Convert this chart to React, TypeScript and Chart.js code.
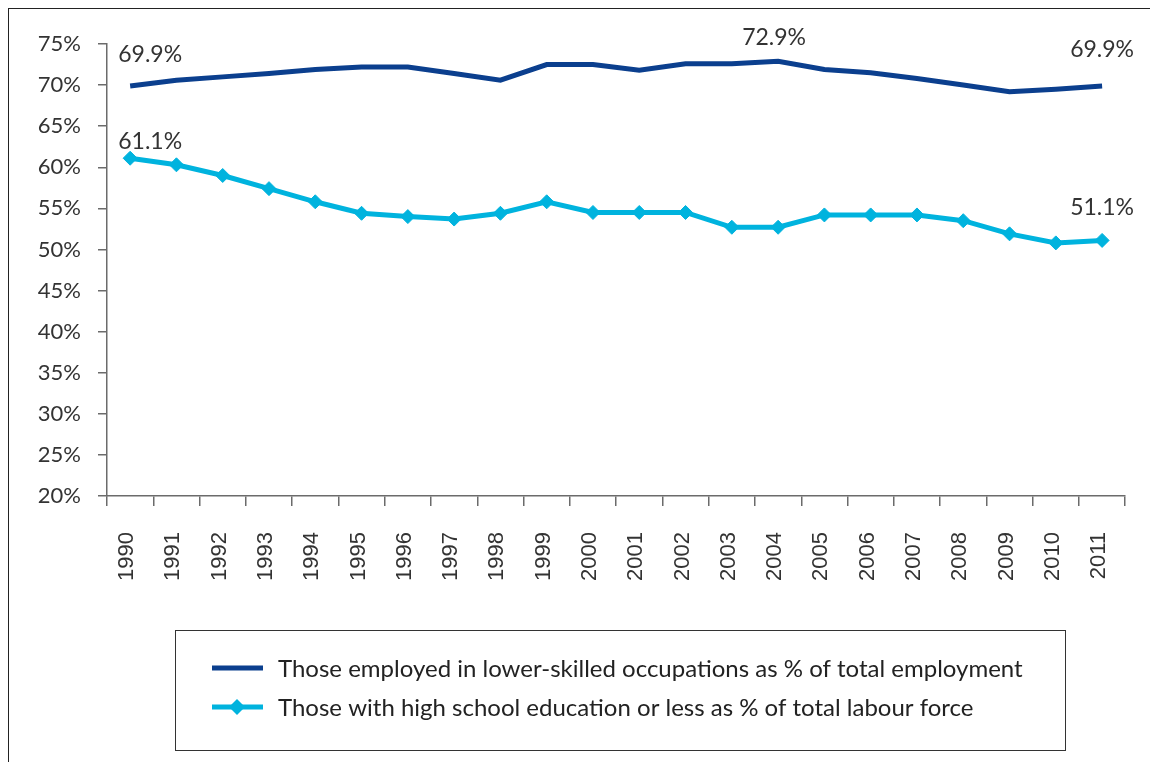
import React, { useEffect, useRef } from 'react';
import { Chart, registerables } from 'chart.js';

Chart.register(...registerables);

// ---- Data ----
const years = [
  '1990', '1991', '1992', '1993', '1994', '1995', '1996', '1997', '1998', '1999', '2000',
  '2001', '2002', '2003', '2004', '2005', '2006', '2007', '2008', '2009', '2010', '2011',
];

const lowerSkilledShare = [
  69.9, 70.6, 71.0, 71.4, 71.9, 72.2, 72.2, 71.4, 70.6, 72.5, 72.5,
  71.8, 72.6, 72.6, 72.9, 71.9, 71.5, 70.8, 70.0, 69.2, 69.5, 69.9,
];

const highSchoolShare = [
  61.1, 60.3, 59.0, 57.4, 55.8, 54.4, 54.0, 53.7, 54.4, 55.8, 54.5,
  54.5, 54.5, 52.7, 52.7, 54.2, 54.2, 54.2, 53.5, 51.9, 50.8, 51.1,
];

const seriesNames = [
  'Those employed in lower-skilled occupations as % of total employment',
  'Those with high school education or less as % of total labour force',
];

const yMin = 20;
const yMax = 75;
const yStep = 5;

// which points get a value label: [datasetIndex, pointIndex]
const labelledPoints: [number, number][] = [
  [0, 0],
  [1, 0],
  [0, 14],
  [0, 21],
  [1, 21],
];

// ---- Styles ----
const DARK = '#0b3f8e';
const LIGHT = '#00b3de';
const TEXT = '#333333';
const AXIS = '#6b6b6b';

const labelOffsets: Record<string, { dx: number; dy: number }> = {
  '0-0': { dx: 20, dy: -31 },
  '1-0': { dx: 20, dy: -17 },
  '0-14': { dx: -4, dy: -24 },
  '0-21': { dx: 0, dy: -36 },
  '1-21': { dx: 0, dy: -33 },
};

const valueLabelPlugin = {
  id: 'valueLabels',
  afterDatasetsDraw(chart: any) {
    const ctx = chart.ctx;
    ctx.save();
    ctx.font = '23px Lato';
    ctx.fillStyle = TEXT;
    ctx.textAlign = 'center';
    ctx.textBaseline = 'middle';
    labelledPoints.forEach(([d, i]) => {
      const meta = chart.getDatasetMeta(d);
      const pt = meta.data[i];
      const v = chart.data.datasets[d].data[i] as number;
      const off = labelOffsets[`${d}-${i}`] || { dx: 0, dy: -25 };
      ctx.fillText(v.toFixed(1) + '%', pt.x + off.dx, pt.y + off.dy);
    });
    ctx.restore();
  },
};

const boxLegendPlugin = {
  id: 'boxLegend',
  afterDraw(chart: any) {
    const ctx = chart.ctx;
    const box = { x: 166, y: 621, w: 890, h: 120 };
    ctx.save();
    ctx.strokeStyle = '#333';
    ctx.lineWidth = 1;
    ctx.strokeRect(box.x + 0.5, box.y + 0.5, box.w, box.h);
    const rows = [box.y + 38, box.y + 77];
    chart.data.datasets.forEach((ds: any, k: number) => {
      const y = rows[k];
      ctx.strokeStyle = ds.borderColor;
      ctx.lineWidth = 5;
      ctx.beginPath();
      ctx.moveTo(box.x + 37, y);
      ctx.lineTo(box.x + 88, y);
      ctx.stroke();
      if (ds.pointRadius > 0) {
        const r = 8;
        const cx = box.x + 62;
        ctx.fillStyle = ds.borderColor;
        ctx.beginPath();
        ctx.moveTo(cx, y - r);
        ctx.lineTo(cx + r, y);
        ctx.lineTo(cx, y + r);
        ctx.lineTo(cx - r, y);
        ctx.closePath();
        ctx.fill();
      }
      ctx.fillStyle = '#222';
      ctx.font = '24px Lato';
      ctx.textAlign = 'left';
      ctx.textBaseline = 'middle';
      ctx.fillText(ds.label, box.x + 103, y + 1);
    });
    ctx.restore();
  },
};

export default function App() {
  const canvasRef = useRef<HTMLCanvasElement | null>(null);

  useEffect(() => {
    if (!canvasRef.current) return;
    const chart = new Chart(canvasRef.current, {
      type: 'line',
      data: {
        labels: years,
        datasets: [
          {
            label: seriesNames[0],
            data: lowerSkilledShare,
            borderColor: DARK,
            backgroundColor: DARK,
            borderWidth: 5,
            pointRadius: 0,
            pointHoverRadius: 0,
            tension: 0,
          },
          {
            label: seriesNames[1],
            data: highSchoolShare,
            borderColor: LIGHT,
            backgroundColor: LIGHT,
            borderWidth: 5,
            pointStyle: 'rectRot',
            pointRadius: 7,
            pointBorderWidth: 1,
            pointBackgroundColor: LIGHT,
            pointBorderColor: LIGHT,
            tension: 0,
          },
        ],
      },
      options: {
        responsive: false,
        maintainAspectRatio: false,
        animation: false,
        layout: { padding: { left: 0, right: 22, top: 35, bottom: 0 } },
        plugins: {
          legend: { display: false },
          tooltip: { enabled: false },
          title: { display: false },
        },
        scales: {
          x: {
            type: 'category',
            offset: true,
            grid: {
              display: true,
              drawOnChartArea: false,
              offset: true,
              tickLength: 10,
              color: AXIS,
              lineWidth: 1.5,
            },
            border: { display: true, color: AXIS, width: 1.5 },
            ticks: {
              minRotation: 90,
              maxRotation: 90,
              autoSkip: false,
              padding: 26,
              labelOffset: -3,
              color: TEXT,
              font: { family: 'Liberation Sans', size: 22 },
            },
            afterFit: (scale: any) => {
              scale.height = 266;
            },
          },
          y: {
            min: yMin,
            max: yMax,
            grid: {
              display: true,
              drawOnChartArea: false,
              tickLength: 9,
              color: AXIS,
              lineWidth: 1.5,
            },
            border: { display: true, color: AXIS, width: 1.5 },
            ticks: {
              stepSize: yStep,
              padding: 17,
              color: TEXT,
              font: { family: 'Lato', size: 22 },
              callback: (v: any) => `${v}%`,
            },
            afterFit: (scale: any) => {
              scale.width = 98;
            },
          },
        },
      },
      plugins: [valueLabelPlugin, boxLegendPlugin],
    });
    return () => chart.destroy();
  }, []);

  return (
    <div
      style={{
        position: 'relative',
        width: 1150,
        height: 755,
        marginLeft: -1,
        marginTop: -1,
        boxSizing: 'border-box',
        borderTop: '2px solid #222',
        borderLeft: '2px solid #222',
        borderRight: '2px solid #222',
        background: '#fff',
      }}
    >
      <canvas ref={canvasRef} width={1146} height={753} style={{ display: 'block' }} />
    </div>
  );
}
